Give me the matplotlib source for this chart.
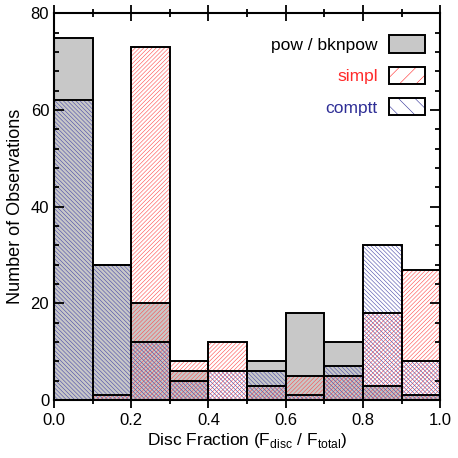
import numpy as np
import matplotlib
matplotlib.use("Agg")
import matplotlib.pyplot as plt
from matplotlib.patches import Patch
from matplotlib.legend_handler import HandlerTuple
from matplotlib.ticker import MultipleLocator, FormatStrFormatter

plt.rcParams["font.family"] = ["Liberation Sans", "DejaVu Sans"]
plt.rcParams["mathtext.fontset"] = "custom"
plt.rcParams["mathtext.rm"] = "Liberation Sans"
plt.rcParams["hatch.linewidth"] = 0.4

# histogram bins (disc fraction) and counts
bin_left = np.arange(0.0, 1.0, 0.1)
pow_counts = [75, 28, 20, 6, 0, 8, 18, 12, 3, 1]
simpl_counts = [0, 1, 73, 8, 12, 3, 5, 5, 18, 27]
comptt_counts = [62, 28, 12, 4, 6, 6, 1, 7, 32, 8]

labels = ["pow / bknpow", "simpl", "comptt"]
gray = "#c8c8c8"
red = "#ff2a2a"
blue = "#2e2e96"

fig = plt.figure(figsize=(4.58, 4.58), dpi=100)
ax = fig.add_axes([0.118, 0.1266, 0.843, 0.844])

w = 0.1
ax.bar(bin_left, pow_counts, w, align="edge", color=gray, linewidth=0)
ax.bar(bin_left, simpl_counts, w, align="edge", fill=False, hatch="/" * 8,
       edgecolor="#ff4a4a", linewidth=0)
ax.bar(bin_left, comptt_counts, w, align="edge", fill=False, hatch="\\" * 8,
       edgecolor="#4848a8", linewidth=0)
for counts in (pow_counts, simpl_counts, comptt_counts):
    ax.bar(bin_left, counts, w, align="edge", fill=False,
           edgecolor="black", linewidth=1.4)

ax.set_xlim(0, 1)
ax.set_ylim(0, 80)
ax.xaxis.set_major_locator(MultipleLocator(0.2))
ax.xaxis.set_minor_locator(MultipleLocator(0.1))
ax.xaxis.set_major_formatter(FormatStrFormatter("%.1f"))
ax.yaxis.set_major_locator(MultipleLocator(20))
ax.yaxis.set_minor_locator(MultipleLocator(4))
ax.tick_params(axis="x", which="both", direction="inout", top=True,
               labelsize=12, width=1.3)
ax.tick_params(axis="x", which="major", length=12)
ax.tick_params(axis="x", which="minor", length=6)
ax.tick_params(axis="y", which="both", direction="in", right=True,
               labelsize=12, width=1.3)
ax.tick_params(axis="y", which="major", length=7)
ax.tick_params(axis="y", which="minor", length=3.5)
for s in ax.spines.values():
    s.set_linewidth(1.5)

ax.set_xlabel(r"Disc Fraction (F$_{\rm disc}$ / F$_{\rm total}$)", fontsize=12.5, labelpad=2)
ax.set_ylabel("Number of Observations", fontsize=13, labelpad=5)

# legend with black outlines and coloured hatching
with plt.rc_context({"hatch.linewidth": 1.3}):
    h_pow = Patch(facecolor=gray, edgecolor="black", linewidth=1.4)
    h_simpl = (Patch(facecolor="white", edgecolor=red, hatch="//", linewidth=0),
               Patch(fill=False, edgecolor="black", linewidth=1.4))
    h_comptt = (Patch(facecolor="white", edgecolor=blue, hatch="\\\\", linewidth=0),
                Patch(fill=False, edgecolor="black", linewidth=1.4))
leg = ax.legend([h_pow, h_simpl, h_comptt], labels,
                handler_map={tuple: HandlerTuple(ndivide=1)},
                loc="upper right", bbox_to_anchor=(1.0, 0.984),
                frameon=False, markerfirst=False, fontsize=12.5,
                handlelength=2.07, handleheight=1.15, handletextpad=0.63,
                labelspacing=0.8, borderpad=0.4)
for t, c in zip(leg.get_texts(), ["black", red, blue]):
    t.set_color(c)

fig.savefig("out.png", dpi=100)
